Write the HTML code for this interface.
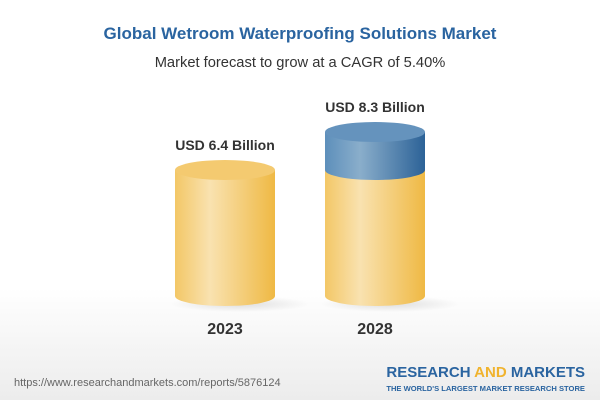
<!DOCTYPE html>
<html><head><style>
body{margin:0;width:600px;height:400px;overflow:hidden;font-family:"Liberation Sans",Arial,sans-serif;}
</style></head><body>
<svg width="600" height="400" viewBox="0 0 600 400" xmlns="http://www.w3.org/2000/svg">
<defs>
<linearGradient id="bg" x1="0" y1="0" x2="0" y2="1">
<stop offset="0" stop-color="#ffffff"/><stop offset="0.72" stop-color="#ffffff"/><stop offset="1" stop-color="#ececec"/>
</linearGradient>
<linearGradient id="yb" x1="0" y1="0" x2="1" y2="0">
<stop offset="0" stop-color="#f3c766"/><stop offset="0.35" stop-color="#f9e2b0"/><stop offset="1" stop-color="#efb944"/>
</linearGradient>
<linearGradient id="bb" x1="0" y1="0" x2="1" y2="0">
<stop offset="0" stop-color="#5d8fbb"/><stop offset="0.35" stop-color="#8aaecb"/><stop offset="1" stop-color="#2c6297"/>
</linearGradient>
<radialGradient id="sh" cx="0.5" cy="0.5" r="0.5">
<stop offset="0" stop-color="#000" stop-opacity="0.12"/><stop offset="1" stop-color="#000" stop-opacity="0"/>
</radialGradient>
</defs>
<rect width="600" height="400" fill="url(#bg)"/>
<text x="300" y="39" text-anchor="middle" font-size="17" font-weight="bold" fill="#2a64a0">Global Wetroom Waterproofing Solutions Market</text>
<text x="300" y="67" text-anchor="middle" font-size="14.7" fill="#333">Market forecast to grow at a CAGR of 5.40%</text>

<ellipse cx="240" cy="304" rx="70" ry="8" fill="url(#sh)"/>
<ellipse cx="390" cy="304" rx="70" ry="8" fill="url(#sh)"/>

<path d="M175 170 L175 296 A50 10 0 0 0 275 296 L275 170 Z" fill="url(#yb)"/>
<ellipse cx="225" cy="170" rx="50" ry="10" fill="#f4ca70"/>

<path d="M325 170 L325 296 A50 10 0 0 0 425 296 L425 170 Z" fill="url(#yb)"/>
<path d="M325 132 L325 170 A50 10 0 0 0 425 170 L425 132 Z" fill="url(#bb)"/>
<ellipse cx="375" cy="132" rx="50" ry="10" fill="#6593bd"/>

<text x="225" y="150" text-anchor="middle" font-size="14" font-weight="bold" fill="#333">USD 6.4 Billion</text>
<text x="375" y="112" text-anchor="middle" font-size="14" font-weight="bold" fill="#333">USD 8.3 Billion</text>
<text x="225" y="334" text-anchor="middle" font-size="16" font-weight="bold" fill="#333">2023</text>
<text x="375" y="334" text-anchor="middle" font-size="16" font-weight="bold" fill="#333">2028</text>

<text x="14" y="386" font-size="11" fill="#666">https://www.researchandmarkets.com/reports/5876124</text>
<text x="585" y="377" text-anchor="end" font-size="15" font-weight="bold" fill="#2a64a0">RESEARCH <tspan fill="#f0b32e">AND</tspan> MARKETS</text>
<text x="585" y="391" text-anchor="end" font-size="7.6" font-weight="bold" fill="#2a64a0">THE WORLD'S LARGEST MARKET RESEARCH STORE</text>
</svg>
</body></html>
